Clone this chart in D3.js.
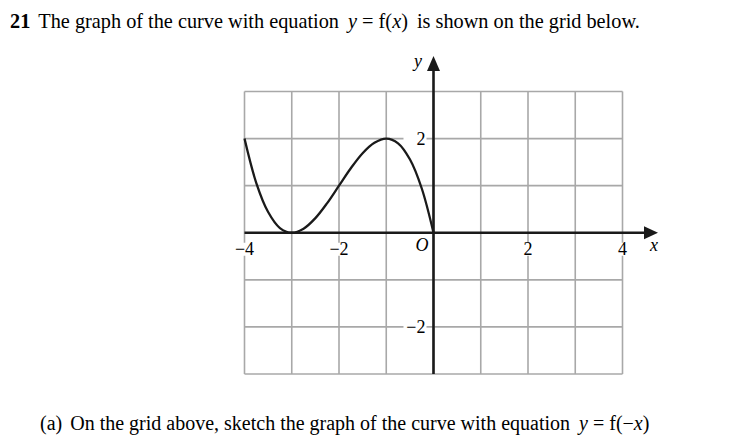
<!DOCTYPE html>
<html><head><meta charset="utf-8">
<script src="https://cdn.jsdelivr.net/npm/d3@7"></script>
<style>
html,body{margin:0;padding:0;background:#fff;}
svg{display:block;}
svg text{font-family:"Liberation Serif","Times New Roman",serif;}
</style></head>
<body><svg id="c" width="755" height="441"></svg>
<script>
// Data
const curveX = [-4,-3.75,-3.5,-3.25,-3,-2.75,-2.5,-2.25,-2,-1.75,-1.5,-1.25,-1,-0.75,-0.5,-0.25,0];
const curveY = [2,1.055,0.44,0.10,0,0.086,0.31,0.63,1,1.37,1.69,1.91,2,1.90,1.56,0.945,0];
const xTickValues = [-4,-2,2,4];
const xTickLabels = ["\u22124","\u22122","2","4"];
const yTickValues = [2,-2];
const yTickLabels = ["2","\u22122"];
const xDomain = [-4,4];
const yDomain = [-3,3];

const svg = d3.select("#c");
const x = d3.scaleLinear().domain(xDomain).range([244.5,622.5]);
const y = d3.scaleLinear().domain(yDomain).range([374,91.5]);

// grid
const grid = svg.append("g").attr("stroke","#a8a8a8").attr("stroke-width",1.6);
d3.range(xDomain[0],xDomain[1]+1).forEach(v=>{
  grid.append("line").attr("x1",x(v)).attr("x2",x(v)).attr("y1",y(yDomain[0])).attr("y2",y(yDomain[1]));
});
d3.range(yDomain[0],yDomain[1]+1).forEach(v=>{
  grid.append("line").attr("x1",x(xDomain[0])).attr("x2",x(xDomain[1])).attr("y1",y(v)).attr("y2",y(v));
});

// tick labels with white backgrounds
const fs = 18;
xTickValues.forEach((v,i)=>{
  svg.append("rect").attr("x",x(v)-11).attr("y",y(0)+10).attr("width",22).attr("height",13).attr("fill","#fff");
  svg.append("text").attr("x",x(v)).attr("y",y(0)+22).attr("text-anchor","middle").attr("font-size",fs).text(xTickLabels[i]);
});
yTickValues.forEach((v,i)=>{
  svg.append("rect").attr("x",x(0)-30).attr("y",y(v)-7).attr("width",23).attr("height",14).attr("fill","#fff");
  svg.append("text").attr("x",x(0)-8).attr("y",y(v)+6).attr("text-anchor","end").attr("font-size",fs).text(yTickLabels[i]);
});
// origin label
svg.append("rect").attr("x",x(0)-20).attr("y",y(0)+6).attr("width",16).attr("height",13).attr("fill","#fff");
svg.append("text").attr("x",x(0)-5).attr("y",y(0)+18).attr("text-anchor","end").attr("font-size",fs).attr("font-style","italic").text("O");

// curve
const pts = curveX.map((v,i)=>[v,curveY[i]]);
svg.append("path").datum(pts)
  .attr("d",d3.line().x(d=>x(d[0])).y(d=>y(d[1])).curve(d3.curveCatmullRom.alpha(0.5)))
  .attr("fill","none").attr("stroke","#1a1a1a").attr("stroke-width",2.3);

// axes
const ax = svg.append("g").attr("stroke","#1a1a1a").attr("stroke-width",2.6);
ax.append("line").attr("x1",x(xDomain[0])).attr("x2",646).attr("y1",y(0)).attr("y2",y(0));
ax.append("line").attr("x1",x(0)).attr("x2",x(0)).attr("y1",y(yDomain[0])).attr("y2",70);
svg.append("path").attr("d",`M658,${y(0)} L644,${y(0)-6.5} L644,${y(0)+6.5} Z`).attr("fill","#1a1a1a");
svg.append("path").attr("d",`M${x(0)},56 L${x(0)-6.5},71 L${x(0)+6.5},71 Z`).attr("fill","#1a1a1a");

svg.append("text").attr("x",418).attr("y",67).attr("text-anchor","middle").attr("font-size",fs).attr("font-style","italic").text("y");
svg.append("text").attr("x",654).attr("y",251).attr("text-anchor","middle").attr("font-size",fs).attr("font-style","italic").text("x");

// title
const t = svg.append("text").attr("x",10).attr("y",28).attr("font-size",20.3);
t.append("tspan").attr("font-weight","bold").text("21");
t.append("tspan").attr("dx",8).text("The graph of the curve with equation");
t.append("tspan").attr("dx",9).attr("font-style","italic").text("y");
t.append("tspan").text(" = f(");
t.append("tspan").attr("font-style","italic").text("x");
t.append("tspan").text(")");
t.append("tspan").attr("dx",9).text("is shown on the grid below.");

const b = svg.append("text").attr("x",40).attr("y",430).attr("font-size",20);
b.append("tspan").text("(a)");
b.append("tspan").attr("dx",8).text("On the grid above, sketch the graph of the curve with equation");
b.append("tspan").attr("dx",9).attr("font-style","italic").text("y");
b.append("tspan").text(" = f(\u2212");
b.append("tspan").attr("font-style","italic").text("x");
b.append("tspan").text(")");
</script></body></html>
